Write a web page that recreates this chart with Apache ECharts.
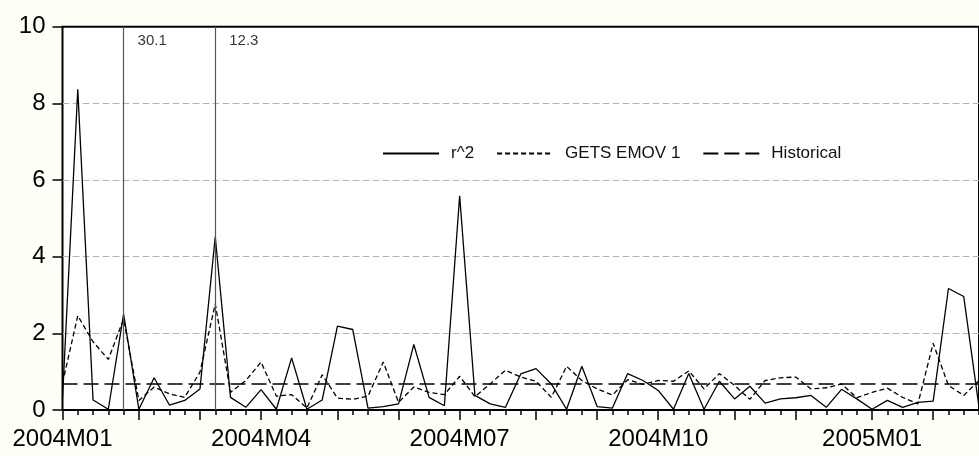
<!DOCTYPE html>
<html lang="en">
<head>
  <meta charset="UTF-8">
  <title>r^2 vs GETS EMOV 1 vs Historical</title>
  <script src="https://cdn.jsdelivr.net/npm/echarts@6/dist/echarts.min.js"></script>
  <style>
    html, body { margin: 0; padding: 0; background: #fefef7; }
    #main { width: 979px; height: 456px; }
  </style>
</head>
<body>
  <div id="main"></div>
  <script type="text/javascript">
    // weekly observations, 2004 week 1 onwards
    var weeks = [];
    for (var w = 0; w < 61; w++) weeks.push('W' + (w + 1));

    // tick positions: first week of each month, labels on quarters
    var monthStart = [0, 5, 9, 13, 18, 22, 26, 31, 35, 39, 44, 48, 53, 57];
    var quarterIdx = [0, 13, 26, 39, 53];
    var quarterLabels = ['2004M01', '2004M04', '2004M07', '2004M10', '2005M01'];

    var r2 = [0.3, 8.37, 0.26, 0.02, 2.5, 0.02, 0.84, 0.13, 0.25, 0.55, 4.52,
      0.33, 0.07, 0.53, 0.02, 1.36, 0.02, 0.26, 2.19, 2.1, 0.05,
      0.09, 0.16, 1.71, 0.33, 0.11, 5.59, 0.38, 0.16, 0.07, 0.94,
      1.08, 0.68, 0.02, 1.14, 0.09, 0.05, 0.95, 0.77, 0.51, 0.02,
      0.95, 0.02, 0.75, 0.29, 0.62, 0.18, 0.29, 0.32, 0.38, 0.07,
      0.54, 0.29, 0.02, 0.25, 0.07, 0.2, 0.23, 3.17, 2.96, 0.08];

    var gets = [0.7, 2.46, 1.78, 1.32, 2.37, 0.25, 0.6, 0.42, 0.33, 0.99, 2.77,
      0.46, 0.77, 1.25, 0.36, 0.4, 0.05, 0.92, 0.31, 0.28, 0.36,
      1.25, 0.2, 0.6, 0.46, 0.4, 0.88, 0.35, 0.68, 1.04, 0.86,
      0.75, 0.33, 1.14, 0.77, 0.55, 0.39, 0.79, 0.67, 0.77, 0.75,
      1.02, 0.55, 0.95, 0.64, 0.28, 0.77, 0.84, 0.86, 0.55, 0.58,
      0.68, 0.32, 0.46, 0.57, 0.33, 0.16, 1.74, 0.64, 0.38, 0.77];

    // historical mean is flat over the whole sample
    var histMean = 0.68;
    var historical = weeks.map(function () { return histMean; });

    // off-scale r^2 values, marked with a vertical line
    var outlierIdx = [4, 10];
    var outlierText = ['30.1', '12.3'];
    var outlierLabelY = 9.62;

    var font = 'Liberation Sans, Arial, Helvetica, sans-serif';

    var myChart = echarts.init(document.getElementById('main'));
    myChart.setOption({
      backgroundColor: '#fefef7',
      animation: false,
      grid: {
        left: 62.5, right: -3.5, top: 26.7, bottom: 46,
        show: true, backgroundColor: '#ffffff',
        borderColor: '#000', borderWidth: 2
      },
      legend: {
        data: ['r^2', 'GETS EMOV 1', 'Historical'],
        left: 382, top: 145, padding: 0,
        itemWidth: 56, itemHeight: 14, itemGap: 22,
        itemStyle: { opacity: 0 },
        textStyle: { fontFamily: font, fontSize: 17, color: '#111', padding: [0, 0, 0, 7] }
      },
      xAxis: [{
        type: 'category', data: weeks, boundaryGap: false,
        axisLine: { show: false },
        axisTick: {
          length: 10, lineStyle: { color: '#000', width: 1.5 },
          interval: function (i) { return monthStart.indexOf(i) >= 0; }
        },
        axisLabel: {
          interval: function (i) { return quarterIdx.indexOf(i) >= 0; },
          formatter: function (v, i) {
            var k = quarterIdx.indexOf(i);
            return k >= 0 ? quarterLabels[k] : '';
          },
          fontFamily: font, fontSize: 24, color: '#000', margin: 17
        },
        splitLine: { show: false }
      }, {
        type: 'category', data: weeks, boundaryGap: false, position: 'bottom',
        axisLine: { show: false },
        axisTick: { length: 5, interval: 0, lineStyle: { color: '#000', width: 1.5 } },
        axisLabel: { show: false },
        splitLine: { show: false }
      }],
      yAxis: {
        type: 'value', min: 0, max: 10, interval: 2,
        axisLine: { show: false },
        axisTick: { show: true, length: 10, lineStyle: { color: '#000', width: 1.5 } },
        axisLabel: { fontFamily: font, fontSize: 24, color: '#000', margin: 17 },
        splitLine: {
          show: true, showMinLine: false, showMaxLine: false,
          lineStyle: { color: '#b4b4b4', width: 1, type: [7, 3] }
        }
      },
      series: [{
        name: 'r^2', type: 'line', data: r2,
        symbol: 'none', showSymbol: false,
        lineStyle: { color: '#000', width: 1.3, type: 'solid' },
        itemStyle: { color: '#000' },
        markLine: {
          silent: true, symbol: 'none',
          label: { show: false },
          lineStyle: { color: '#555', width: 1.2, type: 'solid' },
          data: outlierIdx.map(function (i) { return { xAxis: i }; })
        },
        z: 4
      }, {
        name: 'GETS EMOV 1', type: 'line', data: gets,
        symbol: 'none', showSymbol: false,
        lineStyle: { color: '#000', width: 1.3, type: [5, 3] },
        itemStyle: { color: '#000' },
        z: 3
      }, {
        name: 'Historical', type: 'line', data: historical,
        symbol: 'none', showSymbol: false,
        lineStyle: { color: '#000', width: 1.6, type: [15, 6] },
        itemStyle: { color: '#000' },
        z: 2
      }, {
        name: 'outliers', type: 'scatter', symbolSize: 0,
        data: outlierIdx.map(function (i, k) { return { value: [i, outlierLabelY], name: outlierText[k] }; }),
        label: {
          show: true, position: 'right', distance: 14,
          formatter: function (p) { return p.name; },
          fontFamily: font, fontSize: 15, color: '#000'
        },
        silent: true
      }]
    });
  </script>
</body>
</html>
